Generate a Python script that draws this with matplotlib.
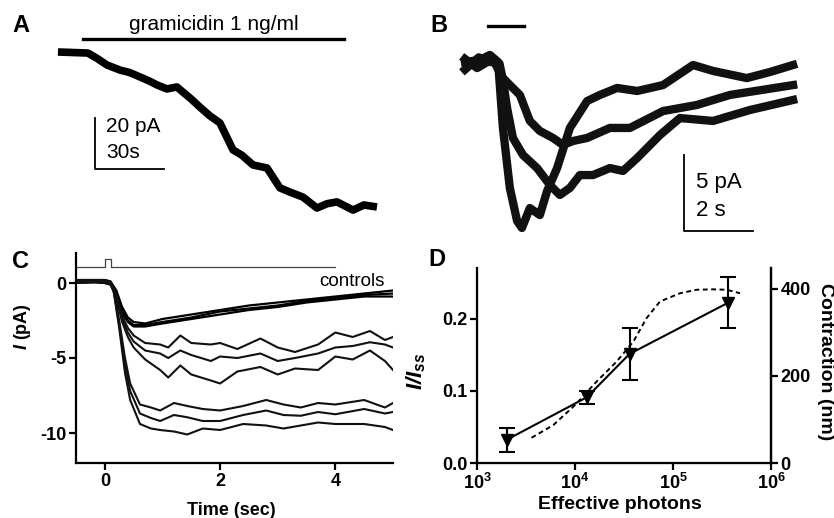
import numpy as np
import matplotlib
matplotlib.use("Agg")
import matplotlib.pyplot as plt

plt.rcParams['font.family'] = ['Liberation Sans', 'DejaVu Sans']
plt.rcParams['mathtext.fontset'] = 'custom'
plt.rcParams['mathtext.rm'] = 'Liberation Sans'
plt.rcParams['mathtext.it'] = 'Liberation Sans:italic'
plt.rcParams['mathtext.bf'] = 'Liberation Sans:bold'
plt.rcParams['mathtext.bfit'] = 'Liberation Sans:italic:bold'

# ---------------- Panel A data (time s, current pA) ----------------
a_time = [0, 13.0, 17.0, 21.3, 27.0, 31.0, 35.7, 40.0, 43.0, 47.4, 51.7, 54.3,
          58.0, 61.7, 66.0, 70.4, 76.1, 80.0, 84.8, 90.9, 96.5, 101.0, 106.5,
          112.6, 117.0, 121.3, 128.3, 133.0, 138.7]
a_curr = [0, -0.4, -2.5, -5.1, -7.1, -8.0, -9.8, -11.5, -12.9, -14.5, -13.7,
          -15.7, -18.5, -21.6, -25.0, -27.8, -38.4, -40.5, -44.3, -45.5, -53.3,
          -55.0, -56.9, -61.2, -59.5, -58.8, -62.0, -60.0, -60.8]
a_bar = [10.9, 124.3]
a_label = "gramicidin 1 ng/ml"

# ---------------- Panel B data (time s, current pA) ----------------
b_fast_t = [0, 0.43, 0.72, 0.96, 1.10, 1.30, 1.51, 1.65, 1.88, 2.17, 2.38, 2.67,
            3.04, 3.54, 3.91, 4.41, 4.99, 5.74, 6.61, 7.19, 8.17, 8.84, 9.51]
b_fast_i = [0.2, 0.33, 0.66, 0.2, -4.14, -8.09, -10.26, -10.72, -9.41, -9.87,
            -8.29, -6.78, -4.14, -2.37, -1.97, -1.51, -1.71, -1.32, 0.0, -0.39,
            -0.86, -0.46, 0.0]
b_mid_t = [0, 0.4, 0.75, 1.0, 1.10, 1.22, 1.39, 1.68, 2.09, 2.46, 2.75, 3.04, 3.33,
           3.71, 4.20, 4.58, 4.99, 5.65, 6.23, 7.19, 8.26, 9.51]
b_mid_i = [-0.3, 0.5, 0.2, 0.1, -0.99, -2.83, -4.80, -5.92, -6.78, -7.89, -8.55,
           -8.09, -7.24, -7.24, -6.78, -6.97, -6.12, -4.61, -3.49, -3.68, -2.96,
           -2.3]
b_slow_t = [0, 0.35, 0.8, 1.10, 1.59, 1.88, 2.17, 2.55, 2.84, 3.13, 3.54, 4.20,
            4.78, 5.74, 6.72, 7.68, 9.51]
b_slow_i = [0.4, -0.2, 0.4, -0.86, -1.97, -3.68, -4.34, -4.80, -5.26, -5.0,
            -4.80, -4.14, -4.14, -3.03, -2.63, -1.97, -1.32]
b_bar = [0.67, 1.71]

# ---------------- Panel C data (time s, current pA) ----------------
c_ctrl_t = [-0.5, 0.0, 0.1, 0.2, 0.3, 0.4, 0.5, 0.7, 1.0, 1.5, 2.0, 2.5, 3.0, 3.5,
            4.0, 4.5, 5.0]
c_ctrl1 = [0.2, 0.2, 0.1, -0.5, -1.6, -2.3, -2.6, -2.7, -2.4, -2.1, -1.8, -1.5,
           -1.3, -1.1, -0.9, -0.7, -0.5]
c_ctrl2 = [0.0, 0.1, 0.0, -0.7, -1.9, -2.5, -2.8, -2.8, -2.6, -2.3, -1.9, -1.7,
           -1.5, -1.2, -1.0, -0.8, -0.7]
c_ctrl3 = [0.2, 0.0, -0.1, -0.8, -2.0, -2.6, -2.9, -2.9, -2.7, -2.4, -2.1, -1.8,
           -1.6, -1.3, -1.1, -0.9, -0.9]
c_mid_t = [-0.5, 0, 0.1, 0.2, 0.3, 0.4, 0.5, 0.7, 0.96, 1.1, 1.31, 1.5, 1.84, 2.0,
           2.3, 2.7, 3.0, 3.3, 3.7, 4.0, 4.3, 4.6, 4.86, 5.0]
c_mid1 = [0.1, 0.1, 0, -0.8, -2.2, -3.0, -3.5, -4.0, -4.1, -4.3, -3.5, -4.0, -4.1,
          -4.0, -4.4, -3.7, -4.3, -4.6, -4.1, -3.3, -3.6, -3.2, -3.8, -3.6]
c_mid2 = [0.2, 0.0, -0.1, -0.9, -2.4, -3.3, -3.9, -4.5, -4.7, -5.0, -4.5, -4.8,
          -5.2, -4.9, -5.0, -4.7, -5.2, -5.0, -4.7, -4.3, -4.2, -3.95, -4.1, -4.3]
c_mid3 = [0.0, 0.1, -0.1, -1.0, -2.6, -3.6, -4.3, -5.1, -5.8, -6.3, -5.5, -6.1,
          -6.5, -6.7, -5.9, -5.6, -6.1, -5.7, -5.8, -4.9, -5.1, -4.5, -5.2, -5.8]
c_deep_t = [-0.5, 0, 0.1, 0.15, 0.25, 0.35, 0.44, 0.61, 0.8, 0.96, 1.2, 1.43, 1.7,
            2.0, 2.4, 2.8, 3.1, 3.4, 3.7, 4.0, 4.5, 4.86, 5.0]
c_deep1 = [0.2, 0.2, 0.1, -0.3, -2.5, -5.0, -6.7, -8.1, -8.3, -8.5, -8.0, -8.2,
           -8.4, -8.5, -8.2, -7.8, -8.1, -8.3, -8.0, -8.1, -7.8, -8.3, -8.0]
c_deep2 = [0.0, 0.1, 0.0, -0.4, -2.8, -5.5, -7.2, -8.7, -9.0, -9.2, -8.8, -8.95,
           -9.2, -9.2, -8.8, -8.5, -8.8, -8.85, -8.6, -8.75, -8.4, -8.7, -8.6]
c_deep3 = [0.1, 0.0, -0.1, -0.5, -3.0, -6.0, -7.8, -9.4, -9.7, -9.8, -9.9, -10.1,
           -9.7, -9.8, -9.4, -9.5, -9.7, -9.5, -9.3, -9.4, -9.4, -9.6, -9.8]
c_stim_t = [-0.5, 0.0, 0.0, 0.1, 0.1, 4.0]
c_stim_v = [1.05, 1.05, 1.6, 1.6, 1.05, 1.05]
c_xticks = [0, 2, 4]
c_yticks = [0, -5, -10]

# ---------------- Panel D data ----------------
d_photons = [2.0e3, 1.32e4, 3.6e4, 3.66e5]
d_ratio = [0.032, 0.091, 0.151, 0.222]
d_err = [0.017, 0.009, 0.036, 0.035]
d_con_x = [3.6e3, 6.0e3, 1.0e4, 1.66e4, 2.66e4, 3.94e4, 5.38e4, 7.36e4, 1.18e5,
           1.74e5, 2.58e5, 3.53e5, 4.83e5]
d_con_y = [58, 87, 133, 187, 233, 279, 333, 371, 390, 398, 399, 398, 390]
d_xticks = [1e3, 1e4, 1e5, 1e6]
d_xticklabels = [r'$\mathbf{10^{3}}$', r'$\mathbf{10^{4}}$', r'$\mathbf{10^{5}}$',
                 r'$\mathbf{10^{6}}$']
d_yticks = [0.0, 0.1, 0.2]
d_y2ticks = [0, 200, 400]

W, H = 834, 518
fig = plt.figure(figsize=(W / 100, H / 100), dpi=100)


def rect(l, r, t, b):
    return [l / W, 1 - b / H, (r - l) / W, (b - t) / H]


# ---------------- Panel A ----------------
axA = fig.add_axes(rect(0, 420, 0, 245))
axA.set_xlim(-25.2, 157.4)
axA.set_ylim(-75.7, 20.4)
axA.axis('off')
axA.plot(a_time, a_curr, color='black', lw=5.5, solid_joinstyle='round',
         solid_capstyle='butt')
axA.plot(a_bar, [5.1, 5.1], color='black', lw=2.4)
axA.text(sum(a_bar) / 2, 10.6, a_label, ha='center', va='center', fontsize=15)
axA.plot([16.1, 16.1, 46.1], [-25.9, -45.9, -45.9], color='black', lw=1.3)
axA.text(21.0, -29.4, '20 pA', ha='left', va='center', fontsize=15)
axA.text(21.0, -39.6, '30s', ha='left', va='center', fontsize=15)

# ---------------- Panel B ----------------
axB = fig.add_axes(rect(420, 834, 0, 250))
axB.set_xlim(-1.304, 10.696)
axB.set_ylim(-12.17, 4.276)
axB.axis('off')
for t, i in [(b_slow_t, b_slow_i), (b_mid_t, b_mid_i), (b_fast_t, b_fast_i)]:
    axB.plot(t, i, color='#111111', lw=6.0, solid_joinstyle='round')
axB.plot(b_bar, [2.57, 2.57], color='black', lw=2.4)
axB.plot([6.35, 6.35, 8.35], [-5.92, -10.92, -10.92], color='black', lw=1.3)
axB.text(6.7, -7.7, '5 pA', ha='left', va='center', fontsize=16)
axB.text(6.7, -9.54, '2 s', ha='left', va='center', fontsize=16)

# ---------------- Panel C ----------------
axC = fig.add_axes(rect(76, 393, 253, 463))
axC.set_xlim(-0.5, 5.0)
axC.set_ylim(-12, 2)
for s in ['top', 'right']:
    axC.spines[s].set_visible(False)
for s in ['left', 'bottom']:
    axC.spines[s].set_linewidth(1.6)
axC.plot(c_stim_t, c_stim_v, color='#444444', lw=0.9)
for y in [c_ctrl1, c_ctrl2, c_ctrl3]:
    axC.plot(c_ctrl_t, y, color='black', lw=1.6)
for y in [c_mid1, c_mid2, c_mid3]:
    axC.plot(c_mid_t, y, color='#111111', lw=1.5)
for y in [c_deep1, c_deep2, c_deep3]:
    axC.plot(c_deep_t, y, color='#111111', lw=1.5)
axC.text(4.28, 0.1, 'controls', ha='center', va='center', fontsize=13.5)
axC.set_xticks(c_xticks)
axC.set_yticks(c_yticks)
axC.set_yticklabels([str(v) for v in c_yticks])
axC.tick_params(direction='out', length=5, width=1.6, labelsize=13, pad=2)
for lab in axC.get_xticklabels() + axC.get_yticklabels():
    lab.set_fontweight('bold')
axC.set_xlabel('Time (sec)', fontsize=13, fontweight='bold')
axC.xaxis.set_label_coords(0.489, -0.185)
axC.set_ylabel(r'$\mathbfit{I}$ (pA)', fontsize=13, fontweight='bold')
axC.yaxis.set_label_coords(-0.135, 0.652)

# ---------------- Panel D ----------------
axD = fig.add_axes(rect(477, 771, 268, 463))
axD.set_xscale('log')
axD.set_xlim(1e3, 1e6)
axD.set_ylim(0, 0.27)
axD.spines['top'].set_visible(False)
for s in ['left', 'bottom', 'right']:
    axD.spines[s].set_linewidth(1.6)
axD.errorbar(d_photons, d_ratio, yerr=d_err, color='black', lw=1.5,
             marker='v', markersize=8, capsize=6, capthick=1.5, elinewidth=1.5)
axD.set_xticks(d_xticks)
axD.set_xticklabels(d_xticklabels)
axD.xaxis.set_minor_locator(matplotlib.ticker.NullLocator())
axD.set_yticks(d_yticks)
axD.set_yticklabels(['0.0', '0.1', '0.2'])
axD.tick_params(direction='out', length=5, width=1.6, labelsize=13, pad=2)
for lab in axD.get_yticklabels():
    lab.set_fontweight('bold')
axD.set_xlabel('Effective photons', fontsize=14, fontweight='bold')
axD.xaxis.set_label_coords(0.486, -0.17)
axD.set_ylabel(r'$\mathbfit{I/I}_{\mathbfit{ss}}$', fontsize=16)
axD.yaxis.set_label_coords(-0.165, 0.47)

axD2 = axD.twinx()
axD2.set_ylim(0, 448)
axD2.spines['top'].set_visible(False)
axD2.spines['right'].set_linewidth(1.6)
axD2.plot(d_con_x, d_con_y, color='black', lw=1.4, linestyle=(0, (2.5, 1.8)))
axD2.set_yticks(d_y2ticks)
axD2.set_yticklabels([str(v) for v in d_y2ticks])
axD2.tick_params(direction='out', length=5, width=1.6, labelsize=13, pad=2)
for lab in axD2.get_yticklabels():
    lab.set_fontweight('bold')
axD2.set_ylabel('Contraction (nm)', fontsize=14, fontweight='bold', rotation=270,
                va='center')
axD2.yaxis.set_label_coords(1.184, 0.518)

# ---------------- Panel letters ----------------
for letter, x, y in [('A', 12, 25), ('B', 430, 25), ('C', 12, 261), ('D', 428, 260)]:
    fig.text(x / W, 1 - y / H, letter, fontsize=17, fontweight='bold',
             ha='left', va='center')

fig.savefig('out.png', dpi=100)
